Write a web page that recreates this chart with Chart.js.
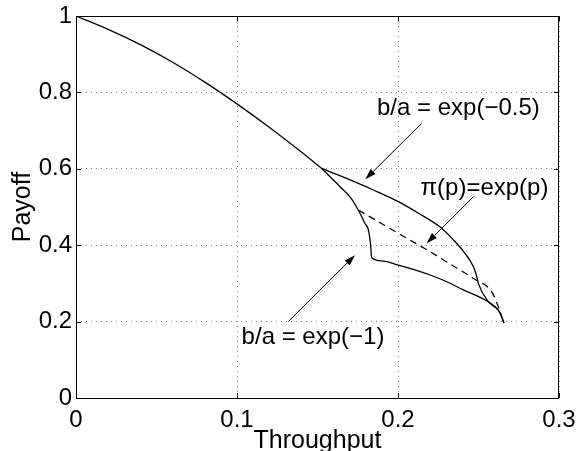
<!DOCTYPE html>
<html>
<head>
<meta charset="utf-8">
<script src="https://cdn.jsdelivr.net/npm/chart.js@4/dist/chart.umd.min.js"></script>
<style>
  html, body { margin: 0; padding: 0; background: #fff; }
  canvas { display: block; }
</style>
</head>
<body>
<canvas id="payoff_chart" width="579" height="451"></canvas>
<script>
// axis ticks
var xTickVals = [0, 0.1, 0.2, 0.3];
var xTickLabels = ['0', '0.1', '0.2', '0.3'];
var yTickVals = [0, 0.2, 0.4, 0.6, 0.8, 1];
var yTickLabels = ['0', '0.2', '0.4', '0.6', '0.8', '1'];

// common curve up to the split point
var mainX = [0, 0.02, 0.04, 0.06, 0.08, 0.1, 0.12, 0.14, 0.1526];
var mainY = [1, 0.965, 0.925, 0.879, 0.827, 0.77, 0.709, 0.644, 0.601];

// b/a = exp(-0.5)
var upperX = [0.1526, 0.165, 0.1847, 0.2002, 0.213, 0.226, 0.2344, 0.241, 0.2468, 0.2489, 0.2499, 0.2561, 0.2623, 0.2644, 0.2658];
var upperY = [0.601, 0.58, 0.5445, 0.514, 0.483, 0.448, 0.414, 0.382, 0.344, 0.318, 0.300, 0.252, 0.23, 0.213, 0.196];

// b/a = exp(-1)
var lowerX = [0.1526, 0.164, 0.1708, 0.1764, 0.1795, 0.1816, 0.183, 0.1836, 0.19, 0.2002, 0.21, 0.2199, 0.23, 0.2406, 0.2488, 0.2561, 0.2623, 0.2644, 0.2658];
var lowerY = [0.601, 0.553, 0.523, 0.4835, 0.457, 0.44, 0.40, 0.368, 0.359, 0.348, 0.336, 0.322, 0.305, 0.283, 0.268, 0.252, 0.23, 0.213, 0.196];

// pi(p) = exp(p), dashed
var dashX = [0.1754, 0.19, 0.2002, 0.2199, 0.2334, 0.2468, 0.2582, 0.2623, 0.2644];
var dashY = [0.492, 0.456, 0.431, 0.383, 0.348, 0.313, 0.278, 0.239, 0.213];

// annotations (data coordinates)
var noteText = ['b/a = exp(\u22120.5)', '\u03c0(p)=exp(p)', 'b/a = exp(\u22121)'];
var noteX = [0.2375, 0.2537, 0.1472];
var noteY = [0.759, 0.55, 0.160];
var tailX = [0.2147, 0.2468, 0.1319];
var tailY = [0.719, 0.527, 0.2];
var tipX = [0.1797, 0.2178, 0.1733];
var tipY = [0.5725, 0.405, 0.374];

function points(xs, ys) {
    return xs.map(function(v, i) { return {x: v, y: ys[i]}; });
}

function curve(xs, ys, dash) {
    return {
        data: points(xs, ys),
        showLine: true,
        borderColor: '#000',
        borderWidth: 1.3,
        borderDash: dash,
        pointRadius: 0,
        cubicInterpolationMode: 'monotone',
        fill: false
    };
}

var fontName = '"Liberation Sans", Arial, Helvetica, sans-serif';

// box, inward ticks and arrow notes
var framePlugin = {
    id: 'frame',
    afterDraw: function(chart) {
        var ctx = chart.ctx, a = chart.chartArea;
        var xs = chart.scales.x, ys = chart.scales.y;
        function seg(x1, y1, x2, y2) {
            ctx.beginPath(); ctx.moveTo(x1, y1); ctx.lineTo(x2, y2); ctx.stroke();
        }
        ctx.save();
        ctx.strokeStyle = '#000';
        ctx.lineWidth = 1;
        ctx.strokeRect(a.left + 0.5, a.top + 0.5, a.right - a.left - 1, a.bottom - a.top);
        xTickVals.forEach(function(v) {
            var px = Math.round(xs.getPixelForValue(v)) + 0.5;
            seg(px, a.bottom, px, a.bottom - 5);
            seg(px, a.top, px, a.top + 5);
        });
        yTickVals.forEach(function(v) {
            var py = Math.round(ys.getPixelForValue(v)) + 0.5;
            seg(a.left, py, a.left + 5, py);
            seg(a.right, py, a.right - 5, py);
        });

        ctx.fillStyle = '#000';
        ctx.font = '24px ' + fontName;
        ctx.textAlign = 'center';
        ctx.textBaseline = 'middle';
        for (var i = 0; i < noteText.length; i++) {
            ctx.fillText(noteText[i], xs.getPixelForValue(noteX[i]), ys.getPixelForValue(noteY[i]));
            var x1 = xs.getPixelForValue(tailX[i]), y1 = ys.getPixelForValue(tailY[i]);
            var x2 = xs.getPixelForValue(tipX[i]), y2 = ys.getPixelForValue(tipY[i]);
            var ang = Math.atan2(y2 - y1, x2 - x1);
            var len = 11, half = 3.5;
            var bx = x2 - len * Math.cos(ang), by = y2 - len * Math.sin(ang);
            ctx.lineWidth = 1;
            seg(x1, y1, bx, by);
            ctx.beginPath();
            ctx.moveTo(x2, y2);
            ctx.lineTo(bx + half * Math.sin(ang), by - half * Math.cos(ang));
            ctx.lineTo(bx - half * Math.sin(ang), by + half * Math.cos(ang));
            ctx.closePath();
            ctx.fill();
        }
        ctx.restore();
    }
};

var ctx = document.getElementById('payoff_chart');
var chart = new Chart(ctx, {
    type: 'scatter',
    data: {
        datasets: [
            curve(mainX, mainY, []),
            curve(upperX, upperY, []),
            curve(lowerX, lowerY, []),
            curve(dashX, dashY, [7, 5])
        ]
    },
    options: {
        responsive: false,
        animation: false,
        devicePixelRatio: 1,
        layout: { padding: { left: 0, right: 20, top: 16, bottom: 0 } },
        plugins: { legend: { display: false }, tooltip: { enabled: false } },
        scales: {
            x: {
                type: 'linear',
                min: 0, max: 0.3,
                afterBuildTicks: function(s) { s.ticks = xTickVals.map(function(v) { return {value: v}; }); },
                afterFit: function(s) { s.height = 53; s.paddingLeft = 0; s.paddingRight = 0; },
                ticks: {
                    color: '#000',
                    padding: 8,
                    maxRotation: 0,
                    font: { family: fontName, size: 24 },
                    callback: function(v, i) { return xTickLabels[i]; }
                },
                grid: { color: '#808080', lineWidth: 1, drawTicks: false },
                border: { display: false, dash: [1, 4] },
                title: {
                    display: true, text: 'Throughput', color: '#000',
                    font: { family: fontName, size: 25, lineHeight: 1 },
                    padding: { top: 0, bottom: -3 }
                }
            },
            y: {
                type: 'linear',
                min: 0, max: 1,
                afterBuildTicks: function(s) { s.ticks = yTickVals.map(function(v) { return {value: v}; }); },
                afterFit: function(s) { s.width = 76; s.paddingTop = 0; s.paddingBottom = 0; },
                ticks: {
                    color: '#000',
                    padding: 4,
                    font: { family: fontName, size: 24 },
                    callback: function(v, i) { return yTickLabels[i]; }
                },
                grid: { color: '#808080', lineWidth: 1, drawTicks: false },
                border: { display: false, dash: [1, 4] },
                title: {
                    display: true, text: 'Payoff', color: '#000',
                    font: { family: fontName, size: 25, lineHeight: 1 },
                    padding: { top: 11, bottom: 0 }
                }
            }
        }
    },
    plugins: [framePlugin]
});
</script>
</body>
</html>
